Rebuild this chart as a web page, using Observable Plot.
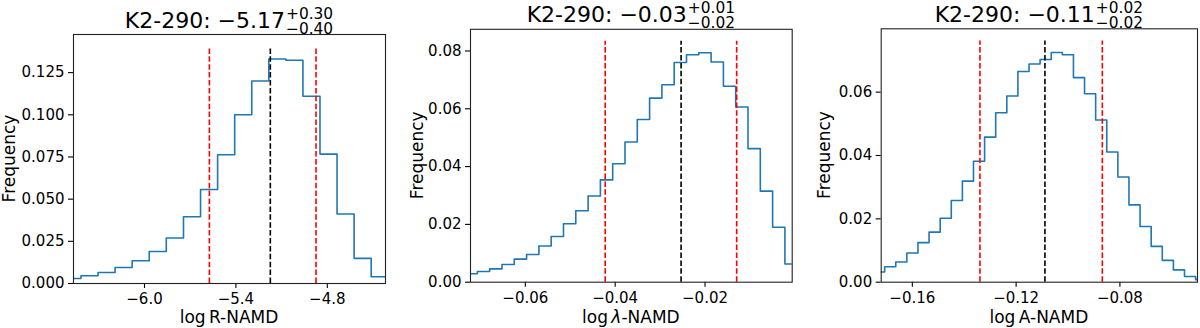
<!DOCTYPE html>
<html>
<head>
<meta charset="utf-8">
<script src="https://cdn.jsdelivr.net/npm/d3@7"></script>
<script src="https://cdn.jsdelivr.net/npm/@observablehq/plot@0.6"></script>
<style>
  html, body { margin: 0; padding: 0; background: #fff; }
  #chart { display: flex; width: 1200px; height: 328px; overflow: hidden; }
  #chart svg { display: block; flex: none; overflow: visible; }
</style>
</head>
<body>
<div id="chart"></div>
<script>
// ---------- DATA ----------
// Panel 1: log R-NAMD
const rEdges = [-6.529, -6.417, -6.305, -6.193, -6.081, -5.969, -5.857, -5.744, -5.632, -5.520,
                -5.408, -5.296, -5.184, -5.072, -4.960, -4.848, -4.736, -4.624, -4.512, -4.400];
const rFreq  = [0.0030, 0.0046, 0.0065, 0.0095, 0.0135, 0.0190, 0.0270, 0.0396, 0.0557, 0.0763,
                0.1000, 0.1200, 0.1331, 0.1323, 0.1110, 0.0767, 0.0412, 0.0149, 0.0040];
const rLines = [-5.574, -5.174, -4.874];      // lower, median, upper
const rXTicks = [-6.0, -5.4, -4.8];
const rYTicks = [0, 0.025, 0.05, 0.075, 0.1, 0.125];
const rTitle = ["K2-290: \u22125.17", "+0.30", "\u22120.40"];

// Panel 2: log lambda-NAMD
const lEdges = [-0.073408, -0.07067, -0.067932, -0.065194, -0.062456, -0.059718, -0.05698, -0.054242,
                -0.051504, -0.048766, -0.046028, -0.04329, -0.040552, -0.037814, -0.035076, -0.032338,
                -0.0296, -0.026862, -0.024124, -0.021386, -0.018648, -0.01591, -0.013172, -0.010434,
                -0.007696, -0.004958, -0.00222, 0.000518];
const lFreq  = [0.0029, 0.0037, 0.0046, 0.0061, 0.0080, 0.0096, 0.0125, 0.0158, 0.0202, 0.0247,
                0.0298, 0.0354, 0.0410, 0.0485, 0.0563, 0.0637, 0.0683, 0.0760, 0.0787, 0.0794,
                0.0762, 0.0678, 0.0606, 0.0462, 0.0315, 0.0190, 0.0063];
const lLines = [-0.04222, -0.02533, -0.01296];
const lXTicks = [-0.06, -0.04, -0.02];
const lYTicks = [0, 0.02, 0.04, 0.06, 0.08];
const lTitle = ["K2-290: \u22120.03", "+0.01", "\u22120.02"];

// Panel 3: log A-NAMD
const aEdges = [-0.17495, -0.17067, -0.16639, -0.16211, -0.15783, -0.15355, -0.14927, -0.14499,
                -0.14071, -0.13643, -0.13215, -0.12787, -0.12359, -0.11931, -0.11503, -0.11075,
                -0.10647, -0.10219, -0.09791, -0.09363, -0.08935, -0.08507, -0.08079, -0.07651,
                -0.07223, -0.06795, -0.06367, -0.05939, -0.05511, -0.05083, -0.04655];
const aFreq  = [0.0032, 0.0049, 0.0064, 0.0092, 0.0125, 0.0158, 0.0202, 0.0258, 0.0319, 0.0382,
                0.0458, 0.0535, 0.0588, 0.0665, 0.0689, 0.0703, 0.0725, 0.0718, 0.0646, 0.0595,
                0.0512, 0.0411, 0.0332, 0.0244, 0.0176, 0.0113, 0.0069, 0.0039, 0.0018, 0.0008];
const aLines = [-0.13395, -0.1089, -0.08678];
const aXTicks = [-0.16, -0.12, -0.08];
const aYTicks = [0, 0.02, 0.04, 0.06];
const aTitle = ["K2-290: \u22120.11", "+0.02", "\u22120.02"];

// ---------- LAYOUT / STYLE ----------
const FONT = "'DejaVu Sans', sans-serif";
const panels = [
  {edges: rEdges, freq: rFreq, lines: rLines, xTicks: rXTicks, yTicks: rYTicks, title: rTitle,
   xDomain: [-6.466, -4.418], yTop: 0.1476, xFmt: ".1f", yFmt: ".3f",
   mL: 73, mR: 15, mT: 34, mB: 45, ylabX: 14.5, xlabel: ["log\u2009R-NAMD"]},
  {edges: lEdges, freq: lFreq, lines: lLines, xTicks: lXTicks, yTicks: lYTicks, title: lTitle,
   xDomain: [-0.0722, -0.0006], yTop: 0.0875, xFmt: ".2f", yFmt: ".2f",
   mL: 70, mR: 8.3, mT: 28.8, mB: 46.3, ylabX: 22.5, xlabel: ["log\u2009", "\u03bb", "-NAMD"]},
  {edges: aEdges, freq: aFreq, lines: aLines, xTicks: aXTicks, yTicks: aYTicks, title: aTitle,
   xDomain: [-0.1720, -0.0501], yTop: 0.0800, xFmt: ".2f", yFmt: ".2f",
   mL: 80.7, mR: 3, mT: 28.3, mB: 46.3, ylabX: 30, xlabel: ["log\u2009A-NAMD"]}
];

const W = 400, H = 328;
const container = document.getElementById("chart");

function stepPoints(edges, freq) {
  const pts = [{x: edges[0], y: 0}];
  freq.forEach((f, i) => pts.push({x: edges[i], y: f}));
  pts.push({x: edges[freq.length], y: freq[freq.length - 1]});
  pts.push({x: edges[freq.length], y: 0});
  return pts;
}

function txtStyle(size, anchor, extra) {
  return `font-family:${FONT};font-size:${size}px;text-anchor:${anchor};fill:#000;` + (extra || "");
}

panels.forEach(p => {
  const peak = d3.max(p.freq);
  const vTop = peak * 1.05;
  const vlines = p.lines.map((v, i) => ({x: v, kind: i === 1 ? "median" : "bound"}));
  const svg = Plot.plot({
    width: W, height: H,
    marginLeft: p.mL, marginRight: p.mR, marginTop: p.mT, marginBottom: p.mB,
    style: {fontFamily: FONT, fontSize: "15px", color: "#000", background: "#fff", overflow: "visible"},
    x: {domain: p.xDomain},
    y: {domain: [0, p.yTop]},
    marks: [
      Plot.line(stepPoints(p.edges, p.freq), {x: "x", y: "y", curve: "step-after",
        stroke: "#1f77b4", strokeWidth: 1.6, clip: true}),
      Plot.ruleX(vlines, {x: "x", y1: 0, y2: vTop,
        stroke: d => d.kind === "median" ? "#000" : "#ff0000",
        strokeWidth: 1.6, strokeDasharray: "5.5,2.4"}),
      Plot.axisX({ticks: p.xTicks, tickFormat: d3.format(p.xFmt), tickSize: 5, tickPadding: 5,
        label: null, strokeWidth: 1.1}),
      Plot.axisY({ticks: p.yTicks, tickFormat: d3.format(p.yFmt), tickSize: 5, tickPadding: 4,
        label: null, strokeWidth: 1.1}),
      Plot.frame({stroke: "#222", strokeWidth: 1.1})
    ]
  });
  container.appendChild(svg);

  const sel = d3.select(svg);
  const cx = p.mL + (W - p.mL - p.mR) / 2;
  const cy = p.mT + (H - p.mT - p.mB) / 2;

  // x label
  const xl = sel.append("text").attr("style", txtStyle(17, "middle"))
    .attr("x", cx).attr("y", H - 5);
  p.xlabel.forEach(s => {
    const t = xl.append("tspan").text(s);
    if (s === "\u03bb") t.attr("style", "font-style:italic");
  });

  // y label
  sel.append("text").attr("style", txtStyle(17, "middle"))
    .attr("transform", `translate(${p.ylabX},${cy}) rotate(-90)`)
    .text("Frequency");

  // title with super/subscript
  const g = sel.append("g");
  const base = p.mT - 6.5;
  const tMain = g.append("text").attr("style", txtStyle(22, "start")).attr("y", base).text(p.title[0]);
  const tSup = g.append("text").attr("style", txtStyle(15.4, "start")).attr("y", base - 9).text(p.title[1]);
  const tSub = g.append("text").attr("style", txtStyle(15.4, "start")).attr("y", base + 6).text(p.title[2]);
  const wm = tMain.node().getComputedTextLength();
  const ws = Math.max(tSup.node().getComputedTextLength(), tSub.node().getComputedTextLength());
  const gap = 1;
  const x0 = cx - (wm + gap + ws) / 2;
  tMain.attr("x", x0);
  tSup.attr("x", x0 + wm + gap);
  tSub.attr("x", x0 + wm + gap);
});
</script>
</body>
</html>
